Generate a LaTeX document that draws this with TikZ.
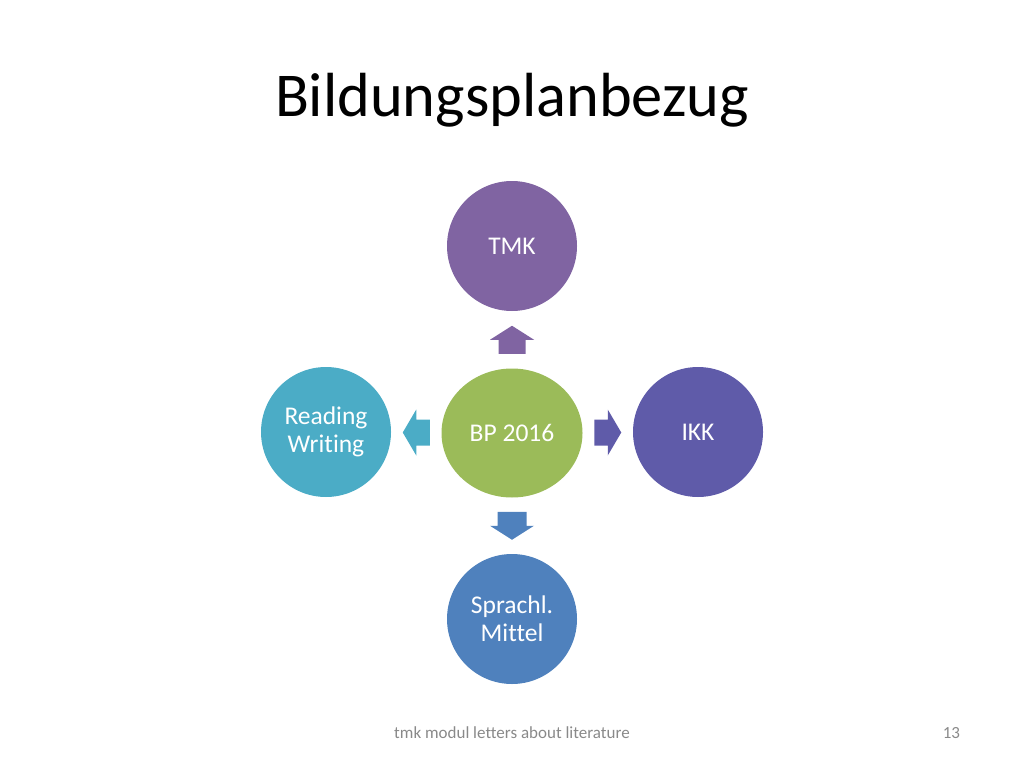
\documentclass[tikz,border=0pt]{standalone}
\usepackage{fontspec}
\setmainfont[Ligatures=NoCommon]{Carlito}
\usepackage{tikz}
\usetikzlibrary{calc, shapes.geometric}

\definecolor{tmklila}{HTML}{8064A2}
\definecolor{bpgruen}{HTML}{9BBB59}
\definecolor{rwtuerkis}{HTML}{4BACC6}
\definecolor{ikkviolett}{HTML}{5F5BA9}
\definecolor{smblau}{HTML}{4F81BD}
\definecolor{fussgrau}{HTML}{898989}

\tikzset{
  kreis/.style={circle, minimum size=130*0.0248cm, inner sep=0pt, text=white,
    align=center, font=\fontsize{18}{19.7}\selectfont},
}

\begin{document}
\begin{tikzpicture}[x=0.0248cm, y=-0.0248cm]
    \useasboundingbox (0, 0) rectangle (1024, 768);

    % Titel
    \node (titel) at (512, 100) {\fontsize{44}{50}\selectfont Bildungsplanbezug};



    % Kreise
    \node[kreis, fill=tmklila] (tmk) at (512, 246) {TMK};

    \node[kreis, ellipse, minimum width=141*0.0248cm, minimum height=129*0.0248cm,
      fill=bpgruen] (bp) at (512, 433) {BP 2016};

    \node[kreis, fill=rwtuerkis] (rw) at (326, 432) {Reading\\Writing};

    \node[kreis, fill=ikkviolett] (ikk) at (698, 432) {IKK};

    \node[kreis, fill=smblau] (sm) at (512, 619) {Sprachl.\\Mittel};



    % Pfeile
    \coordinate (oben) at ($(bp.north)!0.5!(tmk.south)$);
    \fill[tmklila] ($(oben) + (-13.5, 14)$) -- ($(oben) + (-13.5, 0)$) -- ($(oben) + (-22, 0)$)
      -- ($(oben) + (0, -14)$) -- ($(oben) + (22, 0)$) -- ($(oben) + (13.5, 0)$)
      -- ($(oben) + (13.5, 14)$) -- cycle;

    \coordinate (links) at ($(bp.west)!0.5!(rw.east)$);
    \fill[rwtuerkis] ($(links) + (13.5, -13)$) -- ($(links) + (0, -13)$) -- ($(links) + (0, -23)$)
      -- ($(links) + (-13.5, 0)$) -- ($(links) + (0, 23)$) -- ($(links) + (0, 13)$)
      -- ($(links) + (13.5, 13)$) -- cycle;

    \coordinate (rechts) at ($(bp.east)!0.5!(ikk.west)$);
    \fill[ikkviolett] ($(rechts) + (-13.5, -13)$) -- ($(rechts) + (0, -13)$) -- ($(rechts) + (0, -23)$)
      -- ($(rechts) + (13.5, 0)$) -- ($(rechts) + (0, 23)$) -- ($(rechts) + (0, 13)$)
      -- ($(rechts) + (-13.5, 13)$) -- cycle;

    \coordinate (unten) at ($(bp.south)!0.5!(sm.north)$);
    \fill[smblau] ($(unten) + (-14.5, -14)$) -- ($(unten) + (-14.5, 0)$) -- ($(unten) + (-22, 0)$)
      -- ($(unten) + (0, 14)$) -- ($(unten) + (22, 0)$) -- ($(unten) + (14.5, 0)$)
      -- ($(unten) + (14.5, -14)$) -- cycle;



    % Fusszeile
    \node[text=fussgrau, font=\fontsize{12}{14}\selectfont] (fuss) at (512, 733)
      {tmk modul letters about literature};

    \node[text=fussgrau, font=\fontsize{12}{14}\selectfont, anchor=east] (seite) at (965, 733)
      {13};
  \end{tikzpicture}
\end{document}
